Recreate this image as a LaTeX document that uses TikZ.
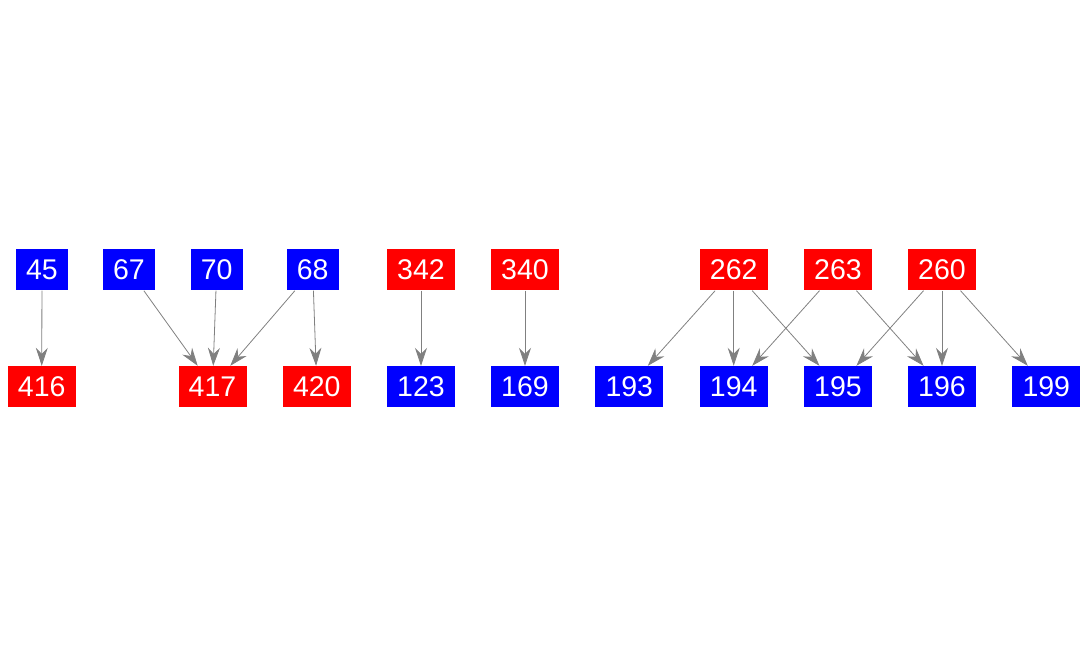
\documentclass[tikz,border=0pt]{standalone}
\usepackage{fontspec}
\setmainfont{Liberation Sans}
\usetikzlibrary{arrows.meta}
\begin{document}
\begin{tikzpicture}[x=1pt, y=1pt,
  vtx/.style={inner sep=0pt, minimum height=41pt, text=white, font=\fontsize{28.5}{30}\selectfont},
  bl/.style={vtx, fill=blue}, rd/.style={vtx, fill=red},
  two/.style={minimum width=52pt}, three/.style={minimum width=68pt},
  edge/.style={draw=gray, line width=0.8pt, -{Stealth[length=18pt, width=12pt, inset=6pt]}}]
\useasboundingbox (0,0) rectangle (1088,656);
% upper row
\node[bl, two] (n45) at (42,386) {45};
\node[bl, two] (n67) at (129,386) {67};
\node[bl, two] (n70) at (216.7,386) {70};
\node[bl, two] (n68) at (312.7,386) {68};
\node[rd, three] (n342) at (421,386) {342};
\node[rd, three] (n340) at (525,386) {340};
\node[rd, three] (n262) at (733.7,386) {262};
\node[rd, three] (n263) at (838,386) {263};
\node[rd, three] (n260) at (942,386) {260};
% lower row
\node[rd, three] (n416) at (41.7,269.5) {416};
\node[rd, three] (n417) at (212.5,269.5) {417};
\node[rd, three] (n420) at (316.8,269.5) {420};
\node[bl, three] (n123) at (421,269.5) {123};
\node[bl, three] (n169) at (525,269.5) {169};
\node[bl, three] (n193) at (629.3,269.5) {193};
\node[bl, three] (n194) at (733.7,269.5) {194};
\node[bl, three] (n195) at (838,269.5) {195};
\node[bl, three] (n196) at (942,269.5) {196};
\node[bl, three] (n199) at (1046.3,269.5) {199};
% edges
\foreach \a/\b in {45/416,67/417,70/417,68/417,68/420,342/123,340/169,262/193,262/194,262/195,263/194,263/196,260/195,260/196,260/199}
  \draw[edge] (n\a) -- (n\b);
\end{tikzpicture}
\end{document}
